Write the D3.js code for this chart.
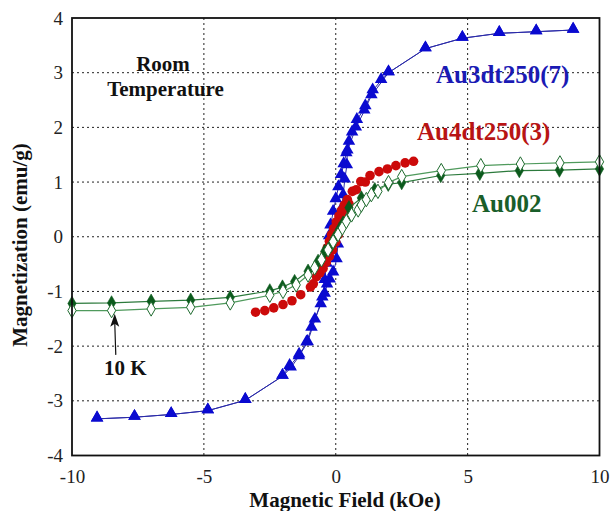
<!DOCTYPE html>
<html><head><meta charset="utf-8">
<script src="https://cdn.jsdelivr.net/npm/d3@7"></script>
<style>
html,body{margin:0;padding:0;background:#fff;}
svg{display:block;}
text{font-family:"Liberation Serif","Times New Roman",serif;}
</style></head>
<body>
<svg id="chart" width="612" height="511"></svg>
<script>
// ---- data ----
const xTicks = [-10, -5, 0, 5, 10];
const yTicks = [-4, -3, -2, -1, 0, 1, 2, 3, 4];

// Au3dt250(7), room temperature: descending and ascending branches
const blueDescX = [9.0, 7.6, 6.2, 4.8, 3.4, 2.0, 1.72, 1.40, 1.12, 0.80, 0.62, 0.50, 0.40, 0.30, 0.20, 0.10, 0.0, -0.1, -0.2, -0.25, -0.3, -0.35, -0.42, -0.51, -0.79, -1.07, -1.40, -1.71, -2.02, -3.43, -4.85, -6.24, -7.63, -9.05];
const blueDescY = [3.78, 3.75, 3.72, 3.63, 3.44, 3.00, 2.86, 2.67, 2.38, 2.13, 1.90, 1.73, 1.52, 1.32, 1.12, 0.90, 0.68, 0.45, 0.20, 0.0, -0.25, -0.50, -0.80, -1.12, -1.52, -1.93, -2.19, -2.40, -2.55, -2.99, -3.18, -3.25, -3.30, -3.33];
const blueAscX = [-9.05, -7.63, -6.24, -4.85, -3.43, -2.02, -1.75, -1.39, -1.11, -0.92, -0.57, -0.42, -0.33, -0.23, -0.1, 0.03, 0.08, 0.15, 0.22, 0.28, 0.34, 0.42, 0.44, 0.76, 1.08, 1.35, 2.0, 3.4, 4.8, 6.2, 7.6, 9.0];
const blueAscY = [-3.33, -3.30, -3.25, -3.18, -2.99, -2.55, -2.37, -2.16, -1.94, -1.67, -1.24, -1.05, -0.88, -0.79, -0.66, -0.42, -0.15, 0.20, 0.50, 0.75, 1.04, 1.30, 1.57, 1.99, 2.30, 2.58, 3.00, 3.44, 3.63, 3.72, 3.75, 3.78];

// Au4dt250(3), room temperature
const redDescX = [2.95, 2.63, 2.28, 1.96, 1.64, 1.30, 0.95, 0.63, 0.44, 0.32, 0.22, 0.12, 0.02, -0.08, -0.16, -0.24, -0.32, -0.40, -0.48, -0.58, -0.73, -0.96, -1.33, -1.66, -2.0, -2.35, -2.69, -3.04];
const redDescY = [1.38, 1.35, 1.30, 1.24, 1.19, 1.12, 1.01, 0.83, 0.68, 0.58, 0.48, 0.38, 0.27, 0.15, 0.04, -0.08, -0.20, -0.32, -0.45, -0.58, -0.73, -0.92, -1.06, -1.17, -1.24, -1.30, -1.35, -1.38];
const redAscX = [-0.85, -0.6, -0.48, -0.36, -0.24, -0.12, 0.0, 0.1, 0.2, 0.3, 0.4, 0.5, 0.78, 1.12];
const redAscY = [-0.86, -0.66, -0.58, -0.47, -0.36, -0.24, -0.10, 0.04, 0.18, 0.32, 0.46, 0.60, 0.86, 1.0];

// Au002, room temperature (filled) and 10 K (open)
const greenFilledX = [-10, -8.5, -7.0, -5.5, -4.0, -2.5, -2.02, -1.56, -1.05, -0.67, -0.42, -0.16, -0.04, 0.13, 0.28, 0.5, 0.97, 1.48, 1.99, 2.5, 3.98, 5.46, 6.96, 8.48, 10];
const greenFilledY = [-1.22, -1.21, -1.18, -1.16, -1.11, -0.99, -0.92, -0.82, -0.63, -0.45, -0.27, -0.15, -0.02, 0.13, 0.25, 0.53, 0.71, 0.86, 0.96, 0.99, 1.12, 1.16, 1.21, 1.22, 1.24];
const greenOpenX = [-10, -8.5, -7.0, -5.5, -4.0, -2.5, -2.0, -1.5, -1.05, -0.8, -0.54, -0.29, -0.1, 0.09, 0.25, 0.4, 0.6, 0.85, 0.97, 1.16, 1.35, 1.6, 2.0, 2.5, 4.0, 5.5, 7.0, 8.5, 10];
const greenOpenY = [-1.35, -1.35, -1.32, -1.29, -1.21, -1.07, -1.0, -0.88, -0.70, -0.57, -0.42, -0.24, -0.09, 0.04, 0.16, 0.28, 0.40, 0.49, 0.58, 0.68, 0.77, 0.83, 0.99, 1.10, 1.21, 1.30, 1.33, 1.35, 1.37];

const xTitle = "Magnetic Field (kOe)";
const yTitle = "Magnetization (emu/g)";

// ---- drawing ----
const svg = d3.select("#chart");
const m = {left: 72, right: 599.5, top: 18, bottom: 455.5};
const x = d3.scaleLinear().domain([-10, 10]).range([m.left, m.right]);
const y = d3.scaleLinear().domain([-4, 4]).range([m.bottom, m.top]);
const zip = (a, b) => a.map((v, i) => [v, b[i]]);

// grid
const grid = svg.append("g");
grid.selectAll("line.gx").data(xTicks.filter(t => t > -10 && t < 10)).join("line")
  .attr("x1", d => x(d)).attr("x2", d => x(d)).attr("y1", m.top).attr("y2", m.bottom)
  .attr("stroke", "#222").attr("stroke-width", 1).attr("stroke-dasharray", "2,3");
grid.selectAll("line.gy").data(yTicks.filter(t => t > -4 && t < 4)).join("line")
  .attr("x1", m.left).attr("x2", m.right).attr("y1", d => y(d)).attr("y2", d => y(d))
  .attr("stroke", "#222").attr("stroke-width", 1).attr("stroke-dasharray", "2,3");

// axes (labels only, no tick marks)
const xAxis = d3.axisBottom(x).tickValues(xTicks).tickSize(0).tickPadding(14).tickFormat(d3.format("d"));
const gx = svg.append("g").attr("transform", `translate(0,${m.bottom})`).call(xAxis);
gx.select(".domain").remove();
gx.selectAll("text").attr("font-size", 19).attr("fill", "#222")
  .style("font-family", "'Liberation Serif','Times New Roman',serif").text(d => d < 0 ? "-" + Math.abs(d) : d);
const yAxis = d3.axisLeft(y).tickValues(yTicks).tickSize(0).tickPadding(9).tickFormat(d3.format("d"));
const gy = svg.append("g").attr("transform", `translate(${m.left},0)`).call(yAxis);
gy.select(".domain").remove();
gy.selectAll("text").attr("font-size", 19).attr("fill", "#222")
  .style("font-family", "'Liberation Serif','Times New Roman',serif").text(d => d < 0 ? "-" + Math.abs(d) : d);

const plot = svg.append("g");
const line = d3.line().x(d => x(d[0])).y(d => y(d[1]));

// Blue series
const blueDesc = zip(blueDescX, blueDescY), blueAsc = zip(blueAscX, blueAscY);
[blueDesc, blueAsc].forEach(s => plot.append("path").attr("d", line(s))
  .attr("fill", "none").attr("stroke", "#2a2aa8").attr("stroke-width", 1));
const tri = d3.symbol().type(d3.symbolTriangle).size(68);
plot.append("g").selectAll("path").data(blueDesc.concat(blueAsc)).join("path")
  .attr("d", tri).attr("transform", d => `translate(${x(d[0])},${y(d[1]) - 1})`)
  .attr("fill", "#0a0ad0");

// Red series
const redAll = zip(redDescX, redDescY).concat(zip(redAscX, redAscY));
plot.append("g").selectAll("circle").data(redAll).join("circle")
  .attr("cx", d => x(d[0])).attr("cy", d => y(d[1])).attr("r", 4.8)
  .attr("fill", "#cc0a0a");

// Green series
const gFilled = zip(greenFilledX, greenFilledY), gOpen = zip(greenOpenX, greenOpenY);
plot.append("path").attr("d", line(gFilled)).attr("fill", "none").attr("stroke", "#2c7a3c").attr("stroke-width", 1.2);
plot.append("path").attr("d", line(gOpen)).attr("fill", "none").attr("stroke", "#4f9a5c").attr("stroke-width", 1.2);
const dia = d3.symbol().type(d3.symbolDiamond).size(60);
plot.append("g").selectAll("path").data(gFilled).join("path")
  .attr("d", dia).attr("transform", d => `translate(${x(d[0])},${y(d[1])})`)
  .attr("fill", "#0b5a1c").attr("stroke", "#0b5a1c").attr("stroke-width", 0.6);
plot.append("g").selectAll("path").data(gOpen).join("path")
  .attr("d", dia).attr("transform", d => `translate(${x(d[0])},${y(d[1])})`)
  .attr("fill", "#ffffff").attr("stroke", "#1f6b2f").attr("stroke-width", 1);

// frame
svg.append("rect").attr("x", m.left).attr("y", m.top)
  .attr("width", m.right - m.left).attr("height", m.bottom - m.top)
  .attr("fill", "none").attr("stroke", "#111").attr("stroke-width", 1.8);

// annotations
const ann = svg.append("g").attr("font-weight", "bold");
ann.append("text").attr("x", 163).attr("y", 71).attr("text-anchor", "middle").attr("font-size", 21).attr("fill", "#111").text("Room");
ann.append("text").attr("x", 165.5).attr("y", 96).attr("text-anchor", "middle").attr("font-size", 21).attr("fill", "#111").text("Temperature");
ann.append("text").attr("x", 436).attr("y", 83).attr("font-size", 25).attr("fill", "#1a1ab4").text("Au3dt250(7)");
ann.append("text").attr("x", 417).attr("y", 140).attr("font-size", 25).attr("fill", "#b81414").text("Au4dt250(3)");
ann.append("text").attr("x", 472).attr("y", 211.5).attr("font-size", 25).attr("fill", "#1a5e2a").text("Au002");
ann.append("text").attr("x", 104).attr("y", 375).attr("font-size", 21).attr("fill", "#111").text("10 K");

// arrow pointing to 10 K curve
const arrowTail = [-8.34, -2.16], arrowTip = [-8.38, -1.41];
svg.append("line").attr("x1", x(arrowTail[0])).attr("y1", y(arrowTail[1]))
  .attr("x2", x(arrowTip[0])).attr("y2", y(arrowTip[1]) + 8)
  .attr("stroke", "#111").attr("stroke-width", 1.2);
const tx = x(arrowTip[0]), ty = y(arrowTip[1]);
svg.append("path").attr("d", `M${tx},${ty} L${tx - 4.5},${ty + 13} L${tx},${ty + 10} L${tx + 4.5},${ty + 13} Z`).attr("fill", "#111");

// axis titles
svg.append("text").attr("x", 345).attr("y", 507).attr("text-anchor", "middle")
  .attr("font-size", 21).attr("font-weight", "bold").attr("fill", "#111").text(xTitle);
svg.append("text").attr("transform", "translate(27,245) rotate(-90)").attr("text-anchor", "middle")
  .attr("font-size", 21).attr("font-weight", "bold").attr("fill", "#111").text(yTitle);
</script>
</body></html>
